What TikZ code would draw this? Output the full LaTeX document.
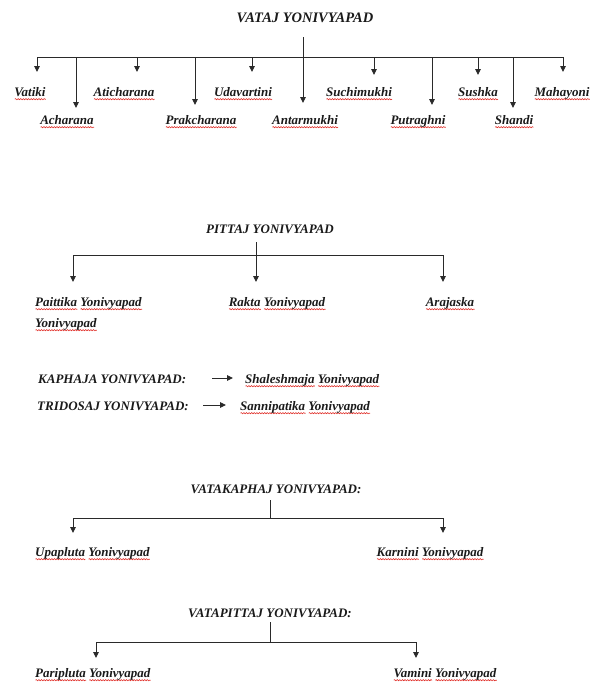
\documentclass[tikz,border=0pt]{standalone}
\usepackage{fontspec}
\setmainfont{Liberation Serif}
\usetikzlibrary{arrows.meta,decorations.pathmorphing}
\definecolor{ink}{HTML}{1A1A1A}
\definecolor{linec}{HTML}{2A2A2A}
\definecolor{wavered}{HTML}{E0312B}
\newsavebox\rwbox
\newcommand\rw[1]{\sbox\rwbox{#1}\rlap{\tikz[baseline=0pt,x=1pt,y=1pt]\draw[wavered,line width=0.6pt,decorate,decoration={snake,amplitude=0.6pt,segment length=2.6pt}] (0,-3.2) -- (\the\wd\rwbox,-3.2);}\usebox\rwbox}
\begin{document}
\begin{tikzpicture}[x=1pt,y=-1pt,
  every node/.style={inner sep=0pt,font=\fontsize{13}{15}\selectfont\bfseries\itshape,text=ink},
  ctr/.style={anchor=base},
  lft/.style={anchor=base west},
  big/.style={font=\fontsize{14.5}{16}\selectfont\bfseries\itshape},
  conn/.style={draw=linec,line width=0.9pt},
  arr/.style={conn,-{Triangle[length=6pt,width=5.5pt]}}]
\useasboundingbox (0,0) rectangle (590,688);
% ---------- VATAJ ----------
\node[ctr,big] (vataj) at (305,23) {VATAJ YONIVYAPAD};
\node[ctr] (vatiki) at (30,96) {\rw{Vatiki}};
\node[ctr] (acharana) at (67,124) {\rw{Acharana}};
\node[ctr] (aticharana) at (124,96) {\rw{Aticharana}};
\node[ctr] (prakcharana) at (201,124) {\rw{Prakcharana}};
\node[ctr] (udavartini) at (243,96) {\rw{Udavartini}};
\node[ctr] (antarmukhi) at (305,124) {\rw{Antarmukhi}};
\node[ctr] (suchimukhi) at (359,96) {\rw{Suchimukhi}};
\node[ctr] (putraghni) at (418,124) {\rw{Putraghni}};
\node[ctr] (sushka) at (478,96) {\rw{Sushka}};
\node[ctr] (shandi) at (514,124) {\rw{Shandi}};
\node[ctr] (mahayoni) at (562,96) {\rw{Mahayoni}};
\coordinate (vbL) at (37,57);
\coordinate (vbR) at (563,57);
\coordinate (vstem) at (303,37);
\coordinate (vtip) at (303,103);
\draw[conn] (vbL) -- (vbR);
\draw[arr] (vstem) -- (vtip);
\foreach \i/\x/\y in {1/37/72,2/76/108,3/137/72,4/195/105,5/252/72,6/374/75,7/432/105,8/478/75,9/513/108,10/563/72}{
  \coordinate (vb\i) at (\x,57);
  \coordinate (ve\i) at (\x,\y);
  \draw[arr] (vb\i) -- (ve\i);
}
% ---------- PITTAJ ----------
\node[ctr] (pittaj) at (270,233) {PITTAJ YONIVYAPAD};
\node[lft] (paittika) at (35,306) {\rw{Paittika} \rw{Yonivyapad}};
\node[lft] (paittika2) at (35,327) {\rw{Yonivyapad}};
\node[ctr] (rakta) at (277,306) {\rw{Rakta} \rw{Yonivyapad}};
\node[ctr] (arajaska) at (450,306) {\rw{Arajaska}};
\coordinate (ps) at (256,242);
\coordinate (pm) at (256,282);
\coordinate (pj) at (256,255);
\coordinate (pl) at (73,282);
\coordinate (pr) at (443,282);
\draw[arr] (ps) -- (pm);
\draw[arr] (pj) -| (pl);
\draw[arr] (pj) -| (pr);
% ---------- KAPHAJA / TRIDOSAJ ----------
\node[lft] (kaphaja) at (38,383) {KAPHAJA YONIVYAPAD:};
\node[lft] (shal) at (245,383) {\rw{Shaleshmaja} \rw{Yonivyapad}};
\coordinate (k1) at (212,378);
\coordinate (k2) at (233,378);
\draw[arr] (k1) -- (k2);
\node[lft] (tridosaj) at (37,410) {TRIDOSAJ YONIVYAPAD:};
\node[lft] (sanni) at (240,410) {\rw{Sannipatika} \rw{Yonivyapad}};
\coordinate (t1) at (203,405);
\coordinate (t2) at (226,405);
\draw[arr] (t1) -- (t2);
% ---------- VATAKAPHAJ ----------
\node[ctr] (vk) at (276,493) {VATAKAPHAJ YONIVYAPAD:};
\node[lft] (upapluta) at (35,556) {\rw{Upapluta} \rw{Yonivyapad}};
\node[ctr] (karnini) at (430,556) {\rw{Karnini} \rw{Yonivyapad}};
\coordinate (vks) at (270,500);
\coordinate (vkj) at (270,518);
\coordinate (vkl) at (73,533);
\coordinate (vkr) at (443,533);
\draw[conn] (vks) -- (vkj);
\draw[arr] (vkj) -| (vkl);
\draw[arr] (vkj) -| (vkr);
% ---------- VATAPITTAJ ----------
\node[ctr] (vp) at (270,617) {VATAPITTAJ YONIVYAPAD:};
\node[lft] (paripluta) at (35,677) {\rw{Paripluta} \rw{Yonivyapad}};
\node[ctr] (vamini) at (445,677) {\rw{Vamini} \rw{Yonivyapad}};
\coordinate (vps) at (270,622);
\coordinate (vpj) at (270,642);
\coordinate (vpl) at (96,658);
\coordinate (vpr) at (416,658);
\draw[conn] (vps) -- (vpj);
\draw[arr] (vpj) -| (vpl);
\draw[arr] (vpj) -| (vpr);
\end{tikzpicture}
\end{document}
